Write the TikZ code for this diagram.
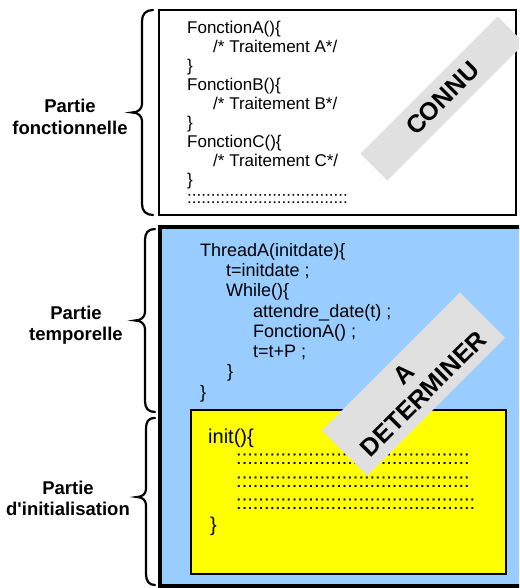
\documentclass[tikz,border=0pt]{standalone}
\usepackage{fontspec}
\setmainfont{Liberation Sans}
\definecolor{bandgray}{RGB}{224,224,224}
\definecolor{lightblue}{RGB}{153,204,255}
\definecolor{yel}{RGB}{255,255,0}
\begin{document}
\begin{tikzpicture}[x=1pt,y=-1pt,
  codeA/.style={anchor=base west, inner sep=0pt, font=\fontsize{17}{20}\selectfont},
  codeB/.style={anchor=base west, inner sep=0pt, font=\fontsize{18}{21}\selectfont},
  codeC/.style={anchor=base west, inner sep=0pt, font=\fontsize{20}{24}\selectfont},
  lbl/.style={align=center, inner sep=0pt, font=\bfseries\fontsize{18.5}{21.5}\selectfont},
  bracepath/.style={line width=2.2pt, line cap=round},
  band/.style={fill=bandgray, rotate=45, inner sep=0pt, align=center,
    font=\bfseries\fontsize{25}{27.6}\selectfont},
]
\useasboundingbox (0,0) rectangle (519,588);
\begin{scope}
\clip (0,0) rectangle (519,588);
% blue box
\draw[fill=lightblue, line width=4pt] (159.5,227) rectangle (540,586);
% yellow box
\draw[fill=yel, line width=2.5pt] (191,410) rectangle (506,574);
% top box
\draw[line width=2.4pt, fill=white] (159,10) rectangle (516,215);

% top box code
\node[codeA] (fa) at (187,34) {FonctionA()\{};
\node[codeA] (ta) at (213,52.9) {/* Traitement A*/};
\node[codeA] (ea) at (187,71.8) {\}};
\node[codeA] (fb) at (187,90.7) {FonctionB()\{};
\node[codeA] (tb) at (213,109.6) {/* Traitement B*/};
\node[codeA] (eb) at (187,128.5) {\}};
\node[codeA] (fc) at (187,147.4) {FonctionC()\{};
\node[codeA] (tc) at (213,166.3) {/* Traitement C*/};
\node[codeA] (ec) at (187,185.2) {\}};
\node[codeA] (dots0) at (187,203) {::::::::::::::::::::::::::::::::::};

% blue box code
\node[codeB] (th) at (200,256) {ThreadA(initdate)\{};
\node[codeB] (t0) at (226,276.3) {t=initdate ;};
\node[codeB] (wh) at (226,296.6) {While()\{};
\node[codeB] (at) at (253,317) {attendre\_date(t) ;};
\node[codeB] (fn) at (253,337.2) {FonctionA() ;};
\node[codeB] (tp) at (253,357.5) {t=t+P ;};
\node[codeB] (ew) at (227,377.8) {\}};
\node[codeB] (et) at (200,398) {\}};

% yellow box code
\node[codeC] (in) at (208,443) {init()\{};
\node[codeC] (d1) at (236,464) {::::::::::::::::::::::::::::::::::::::::::};
\node[codeC] (d2) at (236,487) {::::::::::::::::::::::::::::::::::::::::::};
\node[codeC] (d3) at (236,509) {:::::::::::::::::::::::::::::::::::::::::::};
\node[codeC] (ei) at (210,531) {\}};

% bands
\node[band, minimum width=194pt, minimum height=38pt] (connu) at (442.5,98.5) {CONNU};
\node[band, minimum width=195pt, minimum height=64pt] (adet) at (413.5,384) {A\\DETERMINER};
\end{scope}

% braces
\draw[bracepath] (153,10) .. controls (146,10) and (142,14) .. (142,21) -- (142,104)
  .. controls (142,109) and (138,112.5) .. (132,112.5)
  .. controls (138,112.5) and (142,116) .. (142,121) -- (142,204)
  .. controls (142,211) and (146,215) .. (153,215);
\draw[bracepath] (155,229) .. controls (148,229) and (145,233) .. (145,240) -- (145,312)
  .. controls (145,317) and (141,320.5) .. (135,320.5)
  .. controls (141,320.5) and (145,324) .. (145,329) -- (145,401)
  .. controls (145,408) and (148,412) .. (155,412);
\draw[bracepath] (155,418) .. controls (148,418) and (146,422) .. (146,429) -- (146,489)
  .. controls (146,494) and (142,497) .. (137,497)
  .. controls (142,497) and (146,500) .. (146,505) -- (146,574)
  .. controls (146,581) and (149,585) .. (155,585);

% labels
\node[lbl] (lf) at (70,117) {Partie\\fonctionnelle};
\node[lbl] (lt) at (76,325) {Partie\\temporelle};
\node[lbl] (li) at (68,498.5) {Partie\\d\textquotesingle initialisation};
\end{tikzpicture}
\end{document}
